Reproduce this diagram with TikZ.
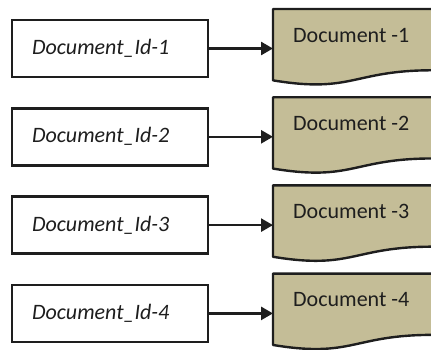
\documentclass[tikz,border=0pt]{standalone}
\usepackage{fontspec}
\setmainfont{Carlito}
\usetikzlibrary{arrows.meta,calc}
\definecolor{doctan}{HTML}{C4BD97}
\definecolor{inkline}{HTML}{1E1E1E}
\tikzset{
  idbox/.style={draw=inkline, line width=2.4pt, fill=white,
    minimum height=57pt, text width=156pt, inner xsep=20pt, inner ysep=0pt,
    align=left, text=inkline, font=\fontsize{22}{26}\selectfont\itshape},
  docnode/.style={inner sep=0pt, minimum width=159pt, minimum height=76pt,
    anchor=north west},
  doclabel/.style={anchor=base west, inner sep=0pt, text=inkline,
    font=\fontsize{22}{26}\selectfont},
  docshape/.style={fill=doctan, draw=inkline, line width=2.4pt, line join=round},
  link/.style={draw=inkline, line width=2.6pt, -{Triangle[length=12pt,width=13pt]}}
}
\begin{document}
\begin{tikzpicture}[x=1pt,y=-1pt]
  \useasboundingbox (0,0) rectangle (431,349);
  \clip (0,0) rectangle (431,349);
  \foreach \k in {1,2,3,4}{
    % identifier box on the left
    \node[idbox] (b\k) at (110,{48.5+88.3*(\k-1)}) {Document\_Id-\k};
    % document shape on the right (wavy bottom edge)
    \node[docnode] (d\k) at (273,{9+88.2*(\k-1)}) {};
    \draw[docshape] (d\k.north west) -- (d\k.north east)
      -- ($(d\k.north east)!0.802!(d\k.south east)$)
      .. controls ($(d\k.north)!0.802!(d\k.south)$) and ($(d\k.north)!1.107!(d\k.south)$)
      .. ($(d\k.north west)!0.934!(d\k.south west)$) -- cycle;
    \node[doclabel] (t\k) at ([xshift=20pt,yshift=-33pt]d\k.north west) {Document -\k};
    % arrow from identifier to document
    \draw[link] (b\k.east) -- (b\k.east -| d\k.west);
  }
\end{tikzpicture}
\end{document}
